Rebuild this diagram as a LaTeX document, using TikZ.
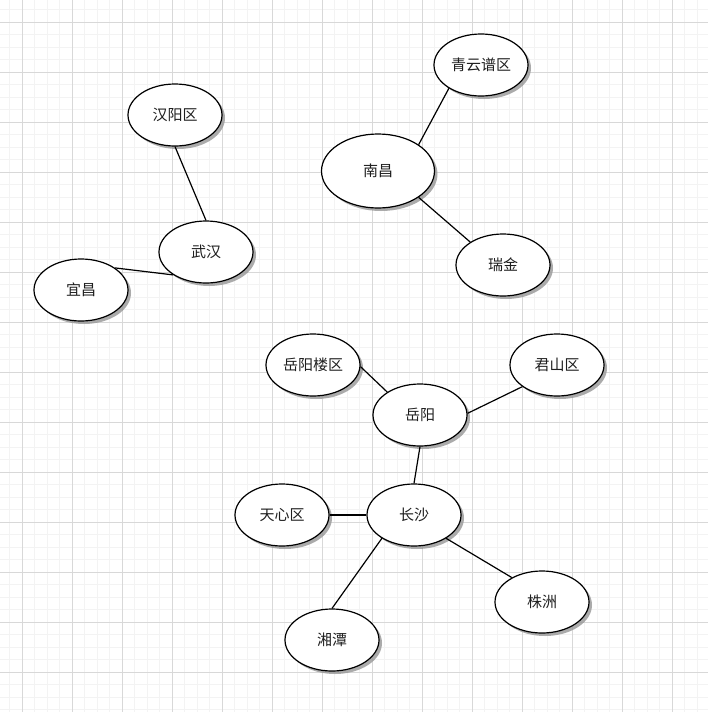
\documentclass[tikz,border=0pt]{standalone}
\usepackage{fontspec}
\setmainfont{Noto Sans CJK SC}
\usepackage{tikz}
\usetikzlibrary{shapes.geometric,shadows}
\definecolor{gMinor}{RGB}{243,243,243}
\definecolor{gMajor}{RGB}{216,216,216}
\definecolor{sGray}{RGB}{150,150,150}
\definecolor{tGray}{RGB}{30,30,30}

\begin{document}
\begin{tikzpicture}[
    x=1pt, y=-1pt,
    font=\fontsize{15}{17}\selectfont,
    city/.style={ellipse, draw, line width=1.2pt, fill=white, text=tGray,
      minimum width=94pt, minimum height=62pt, inner sep=0pt,
      drop shadow={shadow xshift=3pt, shadow yshift=-3pt, fill=sGray, opacity=0.8}},
    big/.style={minimum width=113pt, minimum height=74pt},
    link/.style={line width=1.2pt}
]
  \useasboundingbox (0,0) rectangle (708,712);
  \fill[white] (0,0) rectangle (708,712);

  % grid
  \foreach \g in {-3,9.5,...,708} \draw[gMinor, line width=1pt] (\g,0) -- (\g,712);
  \foreach \g in {-3,9.5,...,712} \draw[gMinor, line width=1pt] (0,\g) -- (708,\g);
  \foreach \g in {22,72,...,702} \draw[gMajor, line width=1pt] (\g,0) -- (\g,712);
  \foreach \g in {22,72,...,712} \draw[gMajor, line width=1pt] (0,\g) -- (708,\g);

  % hubei
  \node[city] (hanyang) at (175,115) {汉阳区};
  \node[city] (wuhan) at (206,252) {武汉};
  \node[city] (yichang) at (81,290) {宜昌};

  % jiangxi
  \node[city, big] (nanchang) at (378,171) {南昌};
  \node[city] (qingyunpu) at (481,65) {青云谱区};
  \node[city] (ruijin) at (503,265) {瑞金};

  % hunan
  \node[city] (yueyanglou) at (313,365) {岳阳楼区};
  \node[city] (junshan) at (557,365) {君山区};
  \node[city] (yueyang) at (420,415) {岳阳};
  \node[city] (changsha) at (414,515) {长沙};
  \node[city] (tianxin) at (282,515) {天心区};
  \node[city] (zhuzhou) at (542,602) {株洲};
  \node[city] (xiangtan) at (332,640) {湘潭};

  \draw[link] (hanyang.south) -- (wuhan.north);
  \draw[link] (yichang.33) -- (wuhan.215);
  \draw[link] (nanchang.33) -- (qingyunpu.216);
  \draw[link] (nanchang.-33) -- (ruijin.145);
  \draw[link] (yueyanglou.-2) -- (yueyang.145);
  \draw[link] (junshan.212) -- (yueyang.2);
  \draw[link] (yueyang.south) -- (changsha.north);
  \draw[link] (tianxin.east) -- (changsha.west);
  \draw[link] (changsha.216) -- (xiangtan.north);
  \draw[link] (changsha.-36) -- (zhuzhou.141);
\end{tikzpicture}
\end{document}
